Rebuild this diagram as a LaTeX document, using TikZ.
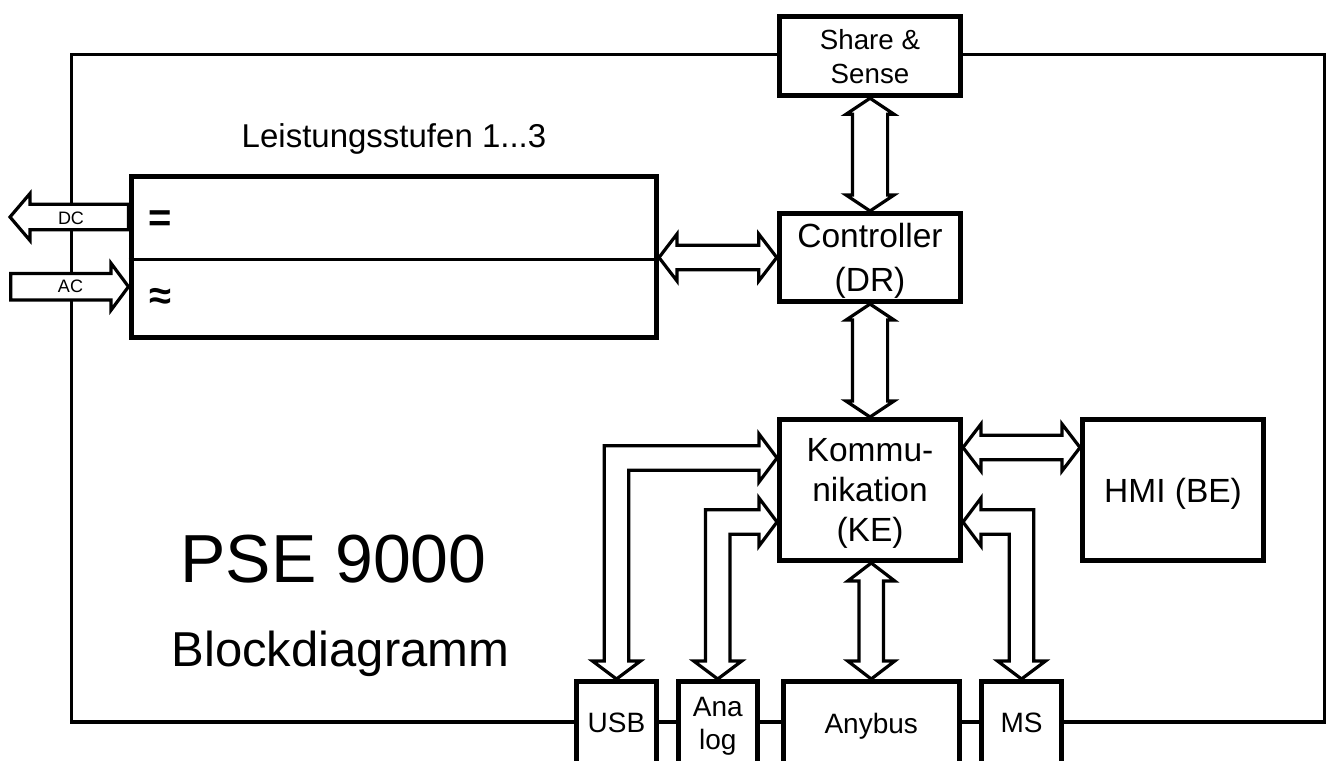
\documentclass[tikz,border=0pt]{standalone}
\usepackage{fontspec}
\setmainfont{Liberation Sans}
\usetikzlibrary{calc}
\newcommand\fsz[2]{\fontsize{#1}{#2}\selectfont}
% hollow double-headed straight arrow: A, B, half shaft, half head, head length
\newcommand\dblarrow[5]{%
  \coordinate (da1) at ($(#1)!#5!(#2)$);
  \coordinate (db1) at ($(#2)!#5!(#1)$);
  \draw[arr] (#1) -- ($(da1)!#4!90:(#2)$) -- ($(da1)!#3!90:(#2)$)
     -- ($(db1)!#3!90:(#2)$) -- ($(db1)!#4!90:(#2)$) -- (#2)
     -- ($(db1)!#4!-90:(#2)$) -- ($(db1)!#3!-90:(#2)$)
     -- ($(da1)!#3!-90:(#2)$) -- ($(da1)!#4!-90:(#2)$) -- cycle;
}
% hollow double-headed bent arrow: A, corner C, B, half shaft, half head, head length
\newcommand\bentarrow[6]{%
  \coordinate (ea1) at ($(#1)!#6!(#2)$);
  \coordinate (eb1) at ($(#3)!#6!(#2)$);
  \coordinate (eaL) at ($(ea1)!#4!90:(#2)$);
  \coordinate (eaR) at ($(ea1)!#4!-90:(#2)$);
  \coordinate (ebL) at ($(eb1)!#4!90:(#3)$);
  \coordinate (ebR) at ($(eb1)!#4!-90:(#3)$);
  \draw[arr] (#1) -- ($(ea1)!#5!90:(#2)$) -- (eaL) -- (eaL |- ebL) -- (ebL)
     -- ($(eb1)!#5!90:(#3)$) -- (#3) -- ($(eb1)!#5!-90:(#3)$) -- (ebR)
     -- (eaR |- ebR) -- (eaR) -- ($(ea1)!#5!-90:(#2)$) -- cycle;
}
% hollow single arrow: tail A, tip B, half shaft, half head, head length
\newcommand\sglarrow[5]{%
  \coordinate (fa1) at ($(#2)!#5!(#1)$);
  \draw[arr] ($(#1)!#3!90:(#2)$) -- ($(fa1)!#3!90:(#2)$) -- ($(fa1)!#4!90:(#2)$)
     -- (#2) -- ($(fa1)!#4!-90:(#2)$) -- ($(fa1)!#3!-90:(#2)$)
     -- ($(#1)!#3!-90:(#2)$) -- cycle;
}
\tikzset{
  box/.style={draw, line width=5pt, fill=white, inner sep=0pt, align=center, text depth=0pt},
  frame/.style={draw, line width=3.5pt},
  arr/.style={draw, line width=3.2pt, fill=white, line join=miter},
  bigtxt/.style={font=\fsz{33.5}{40}},
  midtxt/.style={font=\fsz{28}{34}},
  symb/.style={anchor=base, font=\fsz{40}{44}\bfseries},
}
\begin{document}
\begin{tikzpicture}[x=1pt, y=-1pt]
\useasboundingbox (0,0) rectangle (1329,760);
\clip (0,0) rectangle (1329,760);
\fill[white] (0,0) rectangle (1329,760);
% outer frame
\draw[frame] (71.3,54.7) rectangle (1324.7,722);
% blocks
\node[box, midtxt, minimum width=181.5, minimum height=79.5, font=\fsz{27.7}{34}] (share) at (870,56) {Share \&\\Sense};
\node[box, bigtxt, minimum width=181.5, minimum height=88, font=\fsz{33.5}{44}] (ctrl) at (870,257.5) {Controller\\(DR)};
\node[box, bigtxt, minimum width=181, minimum height=141] (komm) at (870,490) {Kommu-\\nikation\\(KE)};
\node[box, bigtxt, minimum width=181, minimum height=141] (hmi) at (1173,490) {HMI (BE)};
\node[box, minimum width=525.5, minimum height=161] (power) at (393.75,257) {};
\coordinate (dv) at (0,259);
\draw[line width=3pt] (power.west |- dv) -- (power.east |- dv);
\node[symb] (eq) at (160,231) {=};
\node[symb] (approx) at (160,309) {≈};
\node[box, midtxt, minimum width=80, minimum height=83] (usb) at (616.5,723) {USB};
\node[box, midtxt, minimum width=79.5, minimum height=83, font=\fsz{28}{33}] (analog) at (717.75,723) {Ana\\log};
\node[box, midtxt, minimum width=176.5, minimum height=83] (anybus) at (871.25,723) {Anybus};
\node[box, midtxt, minimum width=80, minimum height=83] (ms) at (1021.5,723) {MS};
% texts
\node[anchor=base, font=\fsz{33}{38}] (lst) at (394,147) {Leistungsstufen 1...3};
\node[anchor=base, font=\fsz{68}{80}] (title) at (333.5,582) {PSE 9000};
\node[anchor=base, font=\fsz{49}{56}] (sub) at (340.5,666.7) {Blockdiagramm};
% straight double arrows
\dblarrow{share.south}{ctrl.north}{17.6pt}{24pt}{16pt}
\dblarrow{ctrl.south}{komm.north}{17.6pt}{24pt}{16pt}
\coordinate (pa) at (power.east |- ctrl.west);
\dblarrow{pa}{ctrl.west}{12.2pt}{23.5pt}{18pt}
\coordinate (ka) at (komm.south -| anybus.north);
\dblarrow{ka}{anybus.north}{12.2pt}{23.5pt}{18pt}
\coordinate (ha) at ($(komm.north east)+(0,30.5)$);
\coordinate (hb) at (hmi.west |- ha);
\dblarrow{ha}{hb}{12.2pt}{23.5pt}{18pt}
% bent double arrows
\coordinate (u2) at ($(komm.north west)+(0,41)$);
\coordinate (uc) at (usb.north |- u2);
\bentarrow{usb.north}{uc}{u2}{12.3pt}{24pt}{18pt}
\coordinate (a2) at ($(komm.north west)+(0,105)$);
\coordinate (ac) at (analog.north |- a2);
\bentarrow{analog.north}{ac}{a2}{12.3pt}{24pt}{18pt}
\coordinate (m2) at ($(komm.north east)+(0,105)$);
\coordinate (mc) at (ms.north |- m2);
\bentarrow{ms.north}{mc}{m2}{12.3pt}{24pt}{18pt}
% DC / AC arrows
\coordinate (dcy) at (0,217);
\coordinate (dcT) at (power.west |- dcy);
\coordinate (dcH) at (10,217);
\sglarrow{dcT}{dcH}{12.8pt}{23.5pt}{20pt}
\coordinate (acT) at (10.8,286.7);
\coordinate (acH) at (power.west |- acT);
\sglarrow{acT}{acH}{13.3pt}{23.5pt}{17.5pt}
\node[font=\fsz{18}{20}] (dclab) at (71,218) {DC};
\node[font=\fsz{18}{20}] (aclab) at (70.5,286) {AC};
\end{tikzpicture}
\end{document}
